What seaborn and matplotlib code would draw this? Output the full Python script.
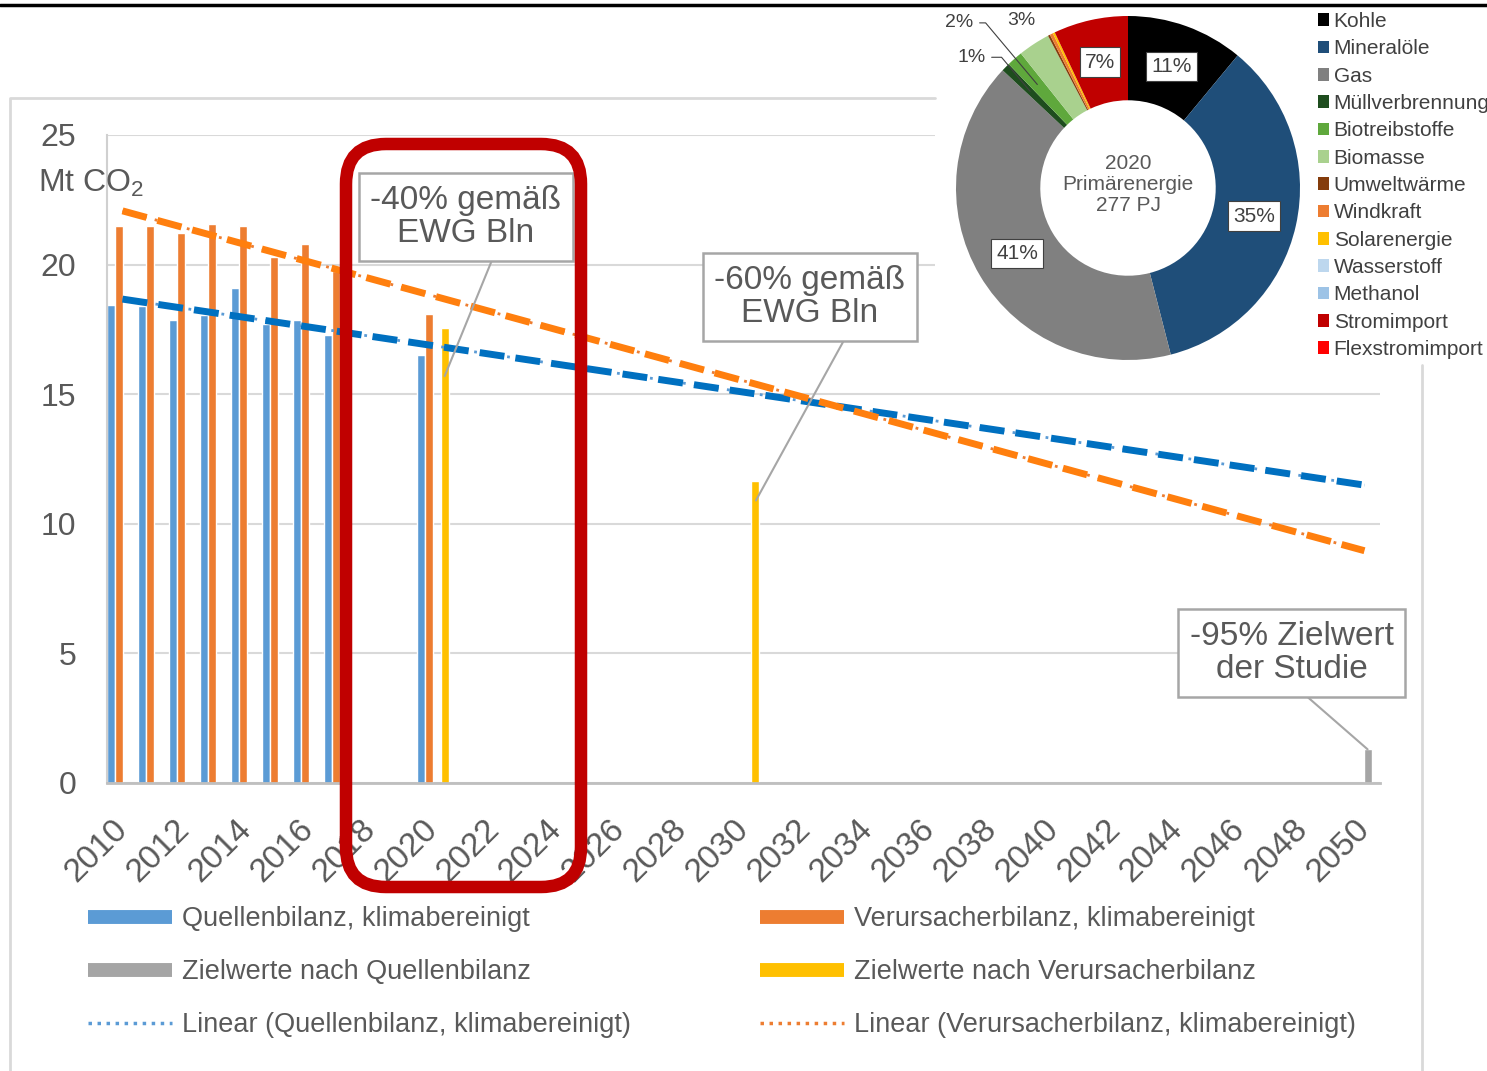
import numpy as np
import pandas as pd
import seaborn as sns
import matplotlib.pyplot as plt
from matplotlib.patches import FancyBboxPatch, Rectangle, Patch
from matplotlib.lines import Line2D

W, H = 1487, 1071

# ---- Daten Balkendiagramm (Mt CO2) ----
years = list(range(2010, 2051))
quellen_years = [2010, 2011, 2012, 2013, 2014, 2015, 2016, 2017, 2020]
quellen = [18.45, 18.4, 17.85, 18.05, 19.1, 17.7, 17.85, 17.3, 16.5]
verursacher_years = [2010, 2011, 2012, 2013, 2014, 2015, 2016, 2017, 2020]
verursacher = [21.5, 21.5, 21.2, 21.55, 21.5, 20.3, 20.8, 19.75, 18.1]
ziel_quellen_years = [2050]
ziel_quellen = [1.3]
ziel_verursacher_years = [2020, 2030]
ziel_verursacher = [17.55, 11.65]

series = ["Quellenbilanz, klimabereinigt", "Verursacherbilanz, klimabereinigt",
          "Zielwerte nach Quellenbilanz", "Zielwerte nach Verursacherbilanz"]
bar_colors = ["#5B9BD5", "#ED7D31", "#A5A5A5", "#FFC000"]
trend_names = ["Linear (Quellenbilanz, klimabereinigt)", "Linear (Verursacherbilanz, klimabereinigt)"]

# ---- Daten Ringdiagramm ----
pie_labels = ["Kohle", "Mineralöle", "Gas", "Müllverbrennung", "Biotreibstoffe", "Biomasse",
              "Umweltwärme", "Windkraft", "Solarenergie", "Wasserstoff", "Methanol",
              "Stromimport", "Flexstromimport"]
pie_values = [11, 35, 41, 0.8, 1.5, 3, 0.2, 0.3, 0.2, 0, 0, 7, 0]
pie_colors = ["#000000", "#1F4E79", "#808080", "#1E4D1E", "#5FA83C", "#A9D18E", "#843C0C",
              "#ED7D31", "#FFC000", "#BDD7EE", "#9DC3E6", "#C00000", "#FF0000"]

sns.set_theme(style="white")
plt.rcParams["font.family"] = ["Liberation Sans", "DejaVu Sans"]
plt.rcParams["mathtext.fontset"] = "custom"
plt.rcParams["mathtext.rm"] = "Liberation Sans"
txt = "#595959"

rows = []
for name, yrs, vals in zip(series, [quellen_years, verursacher_years, ziel_quellen_years, ziel_verursacher_years],
                           [quellen, verursacher, ziel_quellen, ziel_verursacher]):
    for y, v in zip(yrs, vals):
        rows.append({"Jahr": str(y), "Wert": v, "Reihe": name})
df = pd.DataFrame(rows)

fig = plt.figure(figsize=(W / 100, H / 100), dpi=100)
fig.patch.set_facecolor("white")
ax = fig.add_axes([107 / W, 1 - 783 / H, (1380 - 107) / W, (783 - 135) / H])

sns.barplot(data=df, x="Jahr", y="Wert", hue="Reihe", order=[str(y) for y in years],
            hue_order=series, palette=dict(zip(series, bar_colors)), width=1.0, gap=0,
            saturation=1, errorbar=None, legend=False, ax=ax, zorder=2)

# lineare Trends (wie Excel-Trendlinie, bis 2050 fortgeschrieben)
xs = np.arange(len(years))
for yrs, vals, c_dash, c_dot in [(quellen_years, quellen, "#0070C0", "#5B9BD5"),
                                  (verursacher_years, verursacher, "#FF7F0E", "#ED7D31")]:
    idx = [years.index(y) for y in yrs]
    k, d = np.polyfit(idx, vals, 1)
    trend = k * xs + d
    ax.plot(xs, trend, color=c_dot, lw=2, ls=(0, (1, 3)), zorder=4)
    ax.plot(xs, trend, color=c_dash, lw=5, ls=(0, (3.6, 1.6)), zorder=5)

ax.set_xlim(-0.5, len(years) - 0.5)
ax.set_ylim(0, 25)
ax.set_yticks([0, 5, 10, 15, 20, 25])
ax.set_yticklabels(["0", "5", "10", "15", "20", "25"], fontsize=23, color=txt)
ax.set_xticks(xs[::2])
ax.set_xticklabels([str(y) for y in years[::2]], rotation=45, ha="right", va="center",
                   rotation_mode="anchor", fontsize=24, color=txt)
ax.tick_params(axis="y", length=0, pad=22)
ax.tick_params(axis="x", length=0, pad=30)
ax.set_xlabel("")
ax.set_ylabel("")
ax.grid(axis="y", color="#D9D9D9", lw=1.5, zorder=0)
ax.set_axisbelow(True)
for s in ["top", "right"]:
    ax.spines[s].set_visible(False)
ax.spines["left"].set_color("#D0D0D0")
ax.spines["left"].set_linewidth(1.5)
ax.spines["bottom"].set_color("#BFBFBF")
ax.spines["bottom"].set_linewidth(2)

# Beschriftungskästen mit Führungslinien
box = dict(boxstyle="square,pad=0.35", fc="white", ec="#A6A6A6", lw=1.8)
for text, xy, xytext, rel in [("-40% gemäß\nEWG Bln", (10.375, 15.7), (11.06, 21.84), (0.66, 0)),
                              ("-60% gemäß\nEWG Bln", (20.4, 10.9), (22.14, 18.75), (0.71, 0)),
                              ("-95% Zielwert\nder Studie", (40.1, 1.3), (37.66, 5.02), (0.51, 0))]:
    ax.annotate(text, xy=xy, xytext=xytext, ha="center", va="center", fontsize=24, color=txt,
                linespacing=1.1, bbox=box, zorder=6,
                arrowprops=dict(arrowstyle="-", color="#A6A6A6", lw=1.5, relpos=rel,
                                shrinkA=0, shrinkB=0))

# Überlagerung in Pixelkoordinaten: Rahmen, Markierung, Einheit
ov = fig.add_axes([0, 0, 1, 1], zorder=5)
ov.set_xlim(0, W)
ov.set_ylim(H, 0)
ov.axis("off")
ov.plot([0, W], [5, 5], color="black", lw=2.5)
ov.plot([10, 10, 935], [H, 98, 98], color="#D9D9D9", lw=2)
ov.plot([1422, 1422], [365, H], color="#D9D9D9", lw=2)
ov.add_patch(Rectangle((935, 8), W - 935, 357, fc="white", ec="none"))
ov.add_patch(FancyBboxPatch((346, 144), 235, 743, boxstyle="round,pad=0,rounding_size=40",
                            fc="none", ec="#C00000", lw=9))
ov.text(38, 183, r"Mt CO$_\mathregular{2}$", fontsize=23, color=txt, va="center", ha="left")

# Ringdiagramm Primärenergie 2020
cx, cy, r = 1128, 188, 172
pax = fig.add_axes([(cx - r) / W, 1 - (cy + r) / H, 2 * r / W, 2 * r / H], zorder=6)
wedges, _ = pax.pie(pie_values, colors=pie_colors, startangle=90, counterclock=False,
                    radius=1, wedgeprops=dict(width=0.49, edgecolor="none"))
pax.set_xlim(-1, 1)
pax.set_ylim(-1, 1)
pax.text(0, 0.02, "2020\nPrimärenergie\n277 PJ", ha="center", va="center", fontsize=15,
         color=txt, linespacing=1.15)
total = sum(pie_values)
for w, v in zip(wedges, pie_values):
    if v >= 5:
        a = np.deg2rad((w.theta1 + w.theta2) / 2)
        pax.text(0.75 * np.cos(a), 0.75 * np.sin(a), f"{round(100 * v / total)}%", ha="center",
                 va="center", fontsize=15, color="#404040",
                 bbox=dict(boxstyle="square,pad=0.25", fc="white", ec="#404040", lw=0.8))
small = [(3, (-0.91, 0.76)), (4, (-0.98, 0.96)), (5, (-0.62, 0.975))]
for i, pos in small:
    w = wedges[i]
    a = np.deg2rad((w.theta1 + w.theta2) / 2)
    lab = f"{round(100 * pie_values[i] / total)}%"
    if i == 5:
        pax.text(pos[0], pos[1], lab, ha="center", va="center", fontsize=14, color="#404040")
    else:
        pax.annotate(lab, xy=(0.8 * np.cos(a), 0.8 * np.sin(a)), xytext=pos, ha="center",
                     va="center", fontsize=14, color="#404040", annotation_clip=False,
                     arrowprops=dict(arrowstyle="-", color="#404040", lw=0.8,
                                     connectionstyle="angle,angleA=0,angleB=-50,rad=0",
                                     shrinkA=2, shrinkB=0))

pie_handles = [Patch(fc=c, ec="none") for c in pie_colors]
fig.legend(pie_handles, pie_labels, loc="upper left", bbox_to_anchor=(1318 / W, 1 - 12 / H),
           frameon=False, fontsize=15, handlelength=0.55, handleheight=0.55,
           handletextpad=0.2, labelspacing=0.4, borderpad=0, borderaxespad=0, labelcolor="#404040")

# Legende unten
def bar_handle(c):
    return Line2D([0], [0], color=c, lw=10, solid_capstyle="butt")

left_h = [bar_handle(bar_colors[0]), bar_handle(bar_colors[2]),
          Line2D([0], [0], color="#5B9BD5", lw=2.5, ls=(0, (1, 1.6)))]
right_h = [bar_handle(bar_colors[1]), bar_handle(bar_colors[3]),
           Line2D([0], [0], color="#ED7D31", lw=2.5, ls=(0, (1, 1.6)))]
for hs, labs, x0 in [(left_h, [series[0], series[2], trend_names[0]], 88),
                     (right_h, [series[1], series[3], trend_names[1]], 760)]:
    fig.legend(hs, labs, loc="upper left", bbox_to_anchor=(x0 / W, 1 - 906 / H), frameon=False,
               fontsize=19.5, handlelength=3.1, handletextpad=0.38, labelspacing=1.0,
               borderpad=0, borderaxespad=0, labelcolor=txt)

fig.savefig("out.png", dpi=100)
